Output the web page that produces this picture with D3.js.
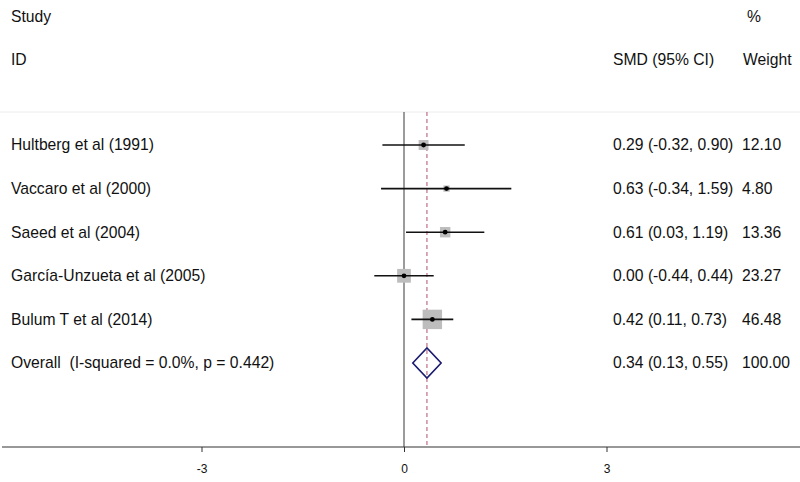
<!DOCTYPE html>
<html><head><meta charset="utf-8">
<script src="https://cdn.jsdelivr.net/npm/d3@7"></script>
<style>body{margin:0;background:#fff}svg{display:block}text{font-family:"Liberation Sans",Arial,sans-serif;font-size:15.7px;fill:#111;white-space:pre}</style>
</head><body>
<svg id="c" width="800" height="482"></svg>
<script>
const studies = ["Hultberg et al (1991)","Vaccaro et al (2000)","Saeed et al (2004)","García-Unzueta et al (2005)","Bulum T et al (2014)"];
const smd = [0.29,0.63,0.61,0.00,0.42];
const lower = [-0.32,-0.34,0.03,-0.44,0.11];
const upper = [0.90,1.59,1.19,0.44,0.73];
const weights = [12.10,4.80,13.36,23.27,46.48];
const overallLabel = "Overall  (I-squared = 0.0%, p = 0.442)";
const overall = {est:0.34, lo:0.13, hi:0.55, w:100.00};
const xTicks = [-3,0,3];

const svg = d3.select("#c");
const x = d3.scaleLinear().domain([-3,3]).range([201.5,606.5]);
const rows = studies.map((s,i)=>i).concat([studies.length]);
const y = d3.scalePoint().domain(rows).range([145,363]);
const size = d3.scaleSqrt().domain([0,100]).range([0,28.5]);
const f2 = d3.format(".2f");
const fmt = v => f2(v).replace("\u2212","-");

const topY = 112, axisY = 447;
const xLab = 11, xCI = 613, xW = 742;
// faint line
svg.append("line").attr("x1",0).attr("x2",800).attr("y1",topY).attr("y2",topY).attr("stroke","#ececec");
// headers
svg.append("text").attr("x",xLab).attr("y",17).attr("dy","0.35em").text("Study");
svg.append("text").attr("x",xLab).attr("y",60).attr("dy","0.35em").text("ID");
svg.append("text").attr("x",xCI).attr("y",60).attr("dy","0.35em").text("SMD (95% CI)");
svg.append("text").attr("x",xW+5).attr("y",17).attr("dy","0.35em").text("%");
svg.append("text").attr("x",xW+1).attr("y",60).attr("dy","0.35em").text("Weight");

// null line
svg.append("line").attr("x1",x(0)).attr("x2",x(0)).attr("y1",topY).attr("y2",axisY).attr("stroke","#666").attr("stroke-width",1.3);
// overall dashed line
svg.append("line").attr("x1",x(overall.est)).attr("x2",x(overall.est)).attr("y1",topY).attr("y2",axisY)
  .attr("stroke","#b0506e").attr("stroke-width",1).attr("stroke-dasharray","4,3");

// axis
const ax = svg.append("g").attr("transform",`translate(0,${axisY})`)
  .call(d3.axisBottom(x).tickValues(xTicks).tickSize(5).tickPadding(12).tickFormat(d => String(d)));
ax.select(".domain").remove();
ax.selectAll("line").attr("stroke","#333");
ax.selectAll("text").style("font-size","12px").attr("fill","#222").style("font-family","'Liberation Sans Narrow','Liberation Sans',Arial,sans-serif");
svg.append("line").attr("x1",2).attr("x2",800).attr("y1",axisY).attr("y2",axisY).attr("stroke","#333").attr("stroke-width",1.2);

// studies
const g = svg.selectAll("g.st").data(studies).enter().append("g");
g.append("rect").attr("x",(d,i)=>x(smd[i])-size(weights[i])/2).attr("y",(d,i)=>y(i)-size(weights[i])/2)
  .attr("width",(d,i)=>size(weights[i])).attr("height",(d,i)=>size(weights[i])).attr("fill","#bdbdbd");
g.append("line").attr("x1",(d,i)=>x(lower[i])).attr("x2",(d,i)=>x(upper[i])).attr("y1",(d,i)=>y(i)).attr("y2",(d,i)=>y(i))
  .attr("stroke","#111").attr("stroke-width",1.6);
g.append("circle").attr("cx",(d,i)=>x(smd[i])).attr("cy",(d,i)=>y(i)).attr("r",2.4).attr("fill","#000");
g.append("text").attr("x",xLab).attr("y",(d,i)=>y(i)).attr("dy","0.35em").text(d=>d);
g.append("text").attr("x",xCI).attr("y",(d,i)=>y(i)).attr("dy","0.35em")
  .text((d,i)=>`${fmt(smd[i])} (${fmt(lower[i])}, ${fmt(upper[i])})`);
g.append("text").attr("x",xW).attr("y",(d,i)=>y(i)).attr("dy","0.35em").text((d,i)=>fmt(weights[i]));

// overall
const oy = y(studies.length);
svg.append("path").attr("d",`M${x(overall.lo)},${oy}L${x(overall.est)},${oy-15}L${x(overall.hi)},${oy}L${x(overall.est)},${oy+15}Z`)
  .attr("fill","none").attr("stroke","#1a1a70").attr("stroke-width",1.6);
svg.append("text").attr("x",xLab).attr("y",oy).attr("dy","0.35em").text(overallLabel);
svg.append("text").attr("x",xCI).attr("y",oy).attr("dy","0.35em").text(`${fmt(overall.est)} (${fmt(overall.lo)}, ${fmt(overall.hi)})`);
svg.append("text").attr("x",xW).attr("y",oy).attr("dy","0.35em").text(fmt(overall.w));
</script>
</body></html>
